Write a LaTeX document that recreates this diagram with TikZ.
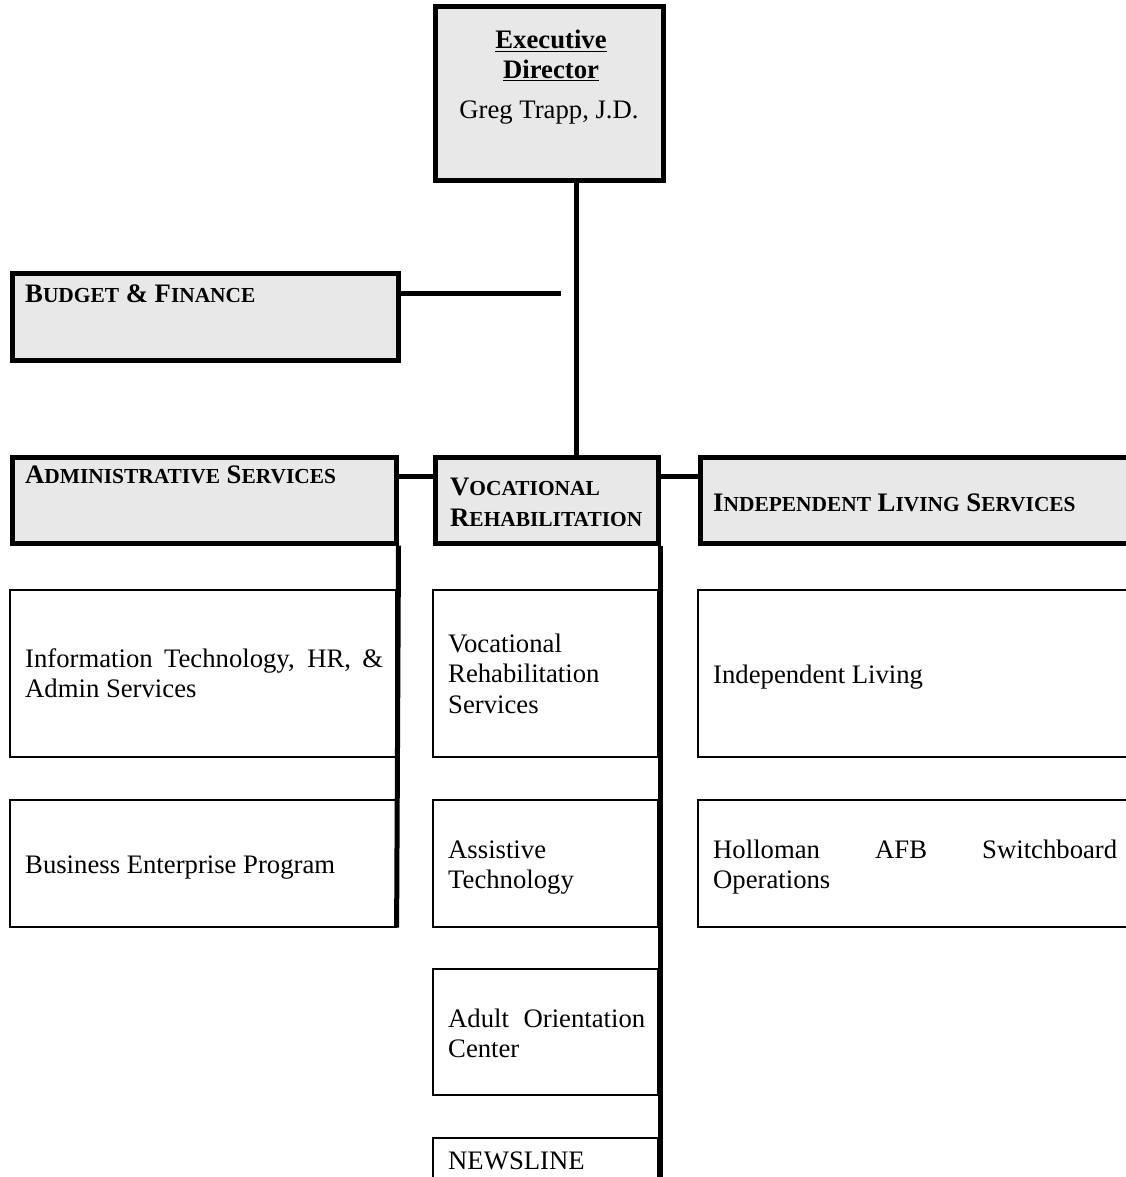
\documentclass[tikz,border=0pt]{standalone}
\usepackage{fontspec}
\setmainfont{Liberation Serif}
\hyphenpenalty=10000 \exhyphenpenalty=10000 \tolerance=10000 \hbadness=10000
\newcommand\fsc[1]{{\fontsize{21.4pt}{21.4pt}\selectfont #1}}
\begin{document}
\begin{tikzpicture}[x=1pt,y=-1pt,
  thickbox/.style={draw, rectangle, line width=5pt, fill=black!9, inner sep=0pt},
  thinbox/.style={draw, rectangle, line width=1.2pt, fill=white, inner sep=0pt},
  conn/.style={line width=5pt},
  txt/.style={anchor=base west, inner sep=0pt, font=\fontsize{26.7pt}{30.5pt}\selectfont},
  btxt/.style={txt, font=\fontsize{26.7pt}{30.5pt}\selectfont\bfseries},
  ctxt/.style={anchor=base, inner sep=0pt, font=\fontsize{26.7pt}{30.5pt}\selectfont},
  jtxt/.style={txt, align=justify, text width=#1}
]
\useasboundingbox (0,0) rectangle (1126,1177);

% main boxes
\node[thickbox, minimum width=228pt, minimum height=174pt] (exec) at (549,94) {};
\node[thickbox, minimum width=386pt, minimum height=87pt] (budget) at (205,316.5) {};
\node[thickbox, minimum width=384pt, minimum height=86pt] (admin) at (204,500) {};
\node[thickbox, minimum width=223pt, minimum height=86pt] (vr) at (546.5,500) {};
\node[thickbox, minimum width=440pt, minimum height=86pt] (ils) at (920,500) {};

% sub boxes
\node[thinbox, minimum width=386pt, minimum height=167pt] (it) at (203,673.5) {};
\node[thinbox, minimum width=386pt, minimum height=127pt] (bep) at (203,863.5) {};
\node[thinbox, minimum width=225pt, minimum height=167pt] (vrs) at (545.5,673.5) {};
\node[thinbox, minimum width=225pt, minimum height=127pt] (at) at (545.5,863.5) {};
\node[thinbox, minimum width=225pt, minimum height=126pt] (aoc) at (545.5,1032) {};
\node[thinbox, minimum width=225pt, minimum height=72pt] (news) at (545.5,1174) {};
\node[thinbox, minimum width=442pt, minimum height=167pt] (il) at (919,673.5) {};
\node[thinbox, minimum width=442pt, minimum height=127pt] (hol) at (919,863.5) {};

% connectors
\coordinate (trunk) at (576,293);
\coordinate (bend) at (561,293);
\coordinate (row) at (0,476);
\coordinate (bottom) at (0,1185);
\draw[conn] (trunk |- exec.south) -- (trunk |- vr.north);
\draw[conn] (budget.east |- bend) -- (bend);
\draw[conn] (admin.east |- row) -- (vr.west |- row);
\draw[conn] (vr.east |- row) -- (ils.west |- row);
\draw[conn] (admin.south east) -- (bep.south east);
\draw[conn] (vr.south east) -- (vr.east |- bottom);

% texts
\node[ctxt, font=\fontsize{26.7pt}{30.5pt}\selectfont\bfseries] (t1) at (551,49) {\underline{Executive}};
\node[ctxt, font=\fontsize{26.7pt}{30.5pt}\selectfont\bfseries] (t2) at (551,79) {\underline{Director}};
\node[ctxt] (t3) at (549,119) {Greg Trapp, J.D.};

\node[btxt] (t4) at (25,302) {B\fsc{UDGET} \& F\fsc{INANCE}};
\node[btxt] (t5) at (25,483) {A\fsc{DMINISTRATIVE} S\fsc{ERVICES}};
\node[btxt] (t6a) at (450,495) {V\fsc{OCATIONAL}};
\node[btxt] (t6b) at (450,526) {R\fsc{EHABILITATION}};
\node[btxt] (t7) at (713,511) {I\fsc{NDEPENDENT} L\fsc{IVING} S\fsc{ERVICES}};

\node[jtxt=358pt] (t8) at (25,667) {Information Technology, HR, \& Admin Services};
\node[txt] (t9) at (25,873) {Business Enterprise Program};
\node[jtxt=197pt] (t10) at (448,652) {Vocational Rehabilitation Services};
\node[jtxt=197pt] (t11) at (448,858) {Assistive Technology};
\node[jtxt=197pt] (t12) at (448,1027) {Adult Orientation Center};
\node[txt] (t13) at (448,1169) {NEWSLINE};
\node[txt] (t14) at (713,683) {Independent Living};
\node[jtxt=404pt] (t15) at (713,858) {Holloman AFB Switchboard Operations};
\end{tikzpicture}
\end{document}
